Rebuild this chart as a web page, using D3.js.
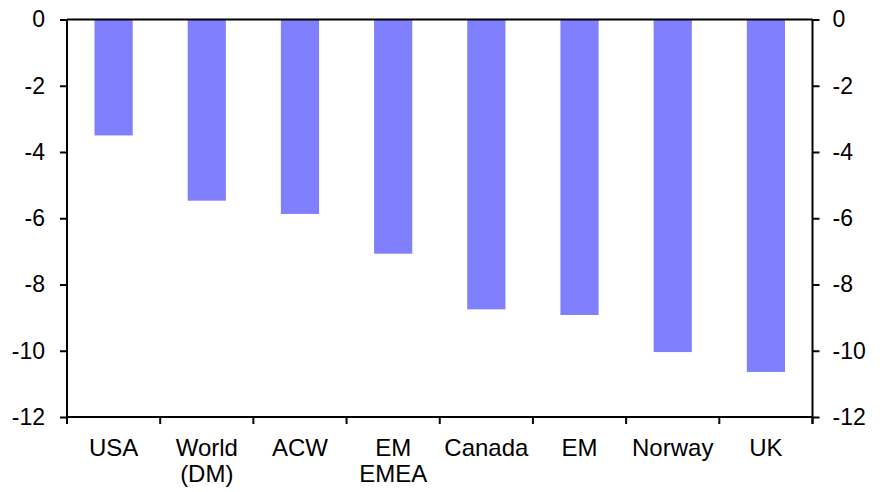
<!DOCTYPE html>
<html>
<head>
<meta charset="utf-8">
<script src="https://cdn.jsdelivr.net/npm/d3@7"></script>
<style>
  body { margin: 0; background: #fff; }
  svg { display: block; }
  text { font-family: "Liberation Sans", Arial, sans-serif; fill: #000; }
</style>
</head>
<body>
<svg id="chart" width="884" height="492"></svg>
<script>
const categories = ["USA", "World\n(DM)", "ACW", "EM\nEMEA", "Canada", "EM", "Norway", "UK"];
const values = [-3.5, -5.47, -5.87, -7.07, -8.75, -8.92, -10.04, -10.64];
const yTicks = [0, -2, -4, -6, -8, -10, -12];

const W = 884, H = 492;
const m = { left: 67, right: 884 - 812.5, top: 19.5, bottom: 492 - 417 };
const svg = d3.select("#chart");

const x = d3.scaleBand().domain(categories).range([m.left, W - m.right])
  .paddingInner(0.59).paddingOuter(0.295);
const xb = d3.scaleBand().domain(categories).range([m.left, W - m.right]).padding(0);
const y = d3.scaleLinear().domain([-12, 0]).range([H - m.bottom, m.top]);

// bars
svg.append("g").selectAll("rect").data(values).join("rect")
  .attr("x", (d, i) => x(categories[i]))
  .attr("width", x.bandwidth())
  .attr("y", y(0))
  .attr("height", d => y(d) - y(0))
  .attr("fill", "#8080ff");

const stroke = "#000", sw = 2;

// frame lines top/bottom
svg.append("line").attr("x1", m.left).attr("x2", W - m.right)
  .attr("y1", y(0)).attr("y2", y(0)).attr("stroke", stroke).attr("stroke-width", sw);
svg.append("line").attr("x1", m.left).attr("x2", W - m.right)
  .attr("y1", y(-12)).attr("y2", y(-12)).attr("stroke", stroke).attr("stroke-width", sw);

const fmt = d => String(d);
// left axis
const gl = svg.append("g").attr("transform", `translate(${m.left},0)`)
  .call(d3.axisLeft(y).tickValues(yTicks).tickSize(7).tickPadding(15).tickFormat(fmt));
// right axis
const gr = svg.append("g").attr("transform", `translate(${W - m.right},0)`)
  .call(d3.axisRight(y).tickValues(yTicks).tickSize(7).tickPadding(13).tickFormat(fmt));
[gl, gr].forEach(g => {
  g.select(".domain").remove();
  g.selectAll(".tick line").attr("stroke", stroke).attr("stroke-width", sw);
  g.selectAll(".tick text").style("font-size", "23px");
  g.attr("font-family", null).attr("font-size", null);
});
// vertical axis lines
[m.left, W - m.right].forEach(xx => {
  svg.append("line").attr("x1", xx).attr("x2", xx)
    .attr("y1", y(0)).attr("y2", y(-12) + 7).attr("stroke", stroke).attr("stroke-width", sw);
});

// bottom ticks at band boundaries
const bounds = categories.map(c => xb(c)).concat([W - m.right]);
svg.append("g").selectAll("line").data(bounds).join("line")
  .attr("x1", d => d).attr("x2", d => d)
  .attr("y1", y(-12)).attr("y2", y(-12) + 7)
  .attr("stroke", stroke).attr("stroke-width", sw);

// category labels
const lbl = svg.append("g").selectAll("text").data(categories).join("text")
  .attr("text-anchor", "middle")
  .attr("x", c => x(c) + x.bandwidth() / 2)
  .attr("y", y(-12) + 39)
  .style("font-size", "24px");
lbl.each(function (c) {
  const t = d3.select(this);
  c.split("\n").forEach((line, i) => {
    t.append("tspan").attr("x", x(c) + x.bandwidth() / 2).attr("dy", i === 0 ? 0 : 26).text(line);
  });
});
</script>
</body>
</html>
